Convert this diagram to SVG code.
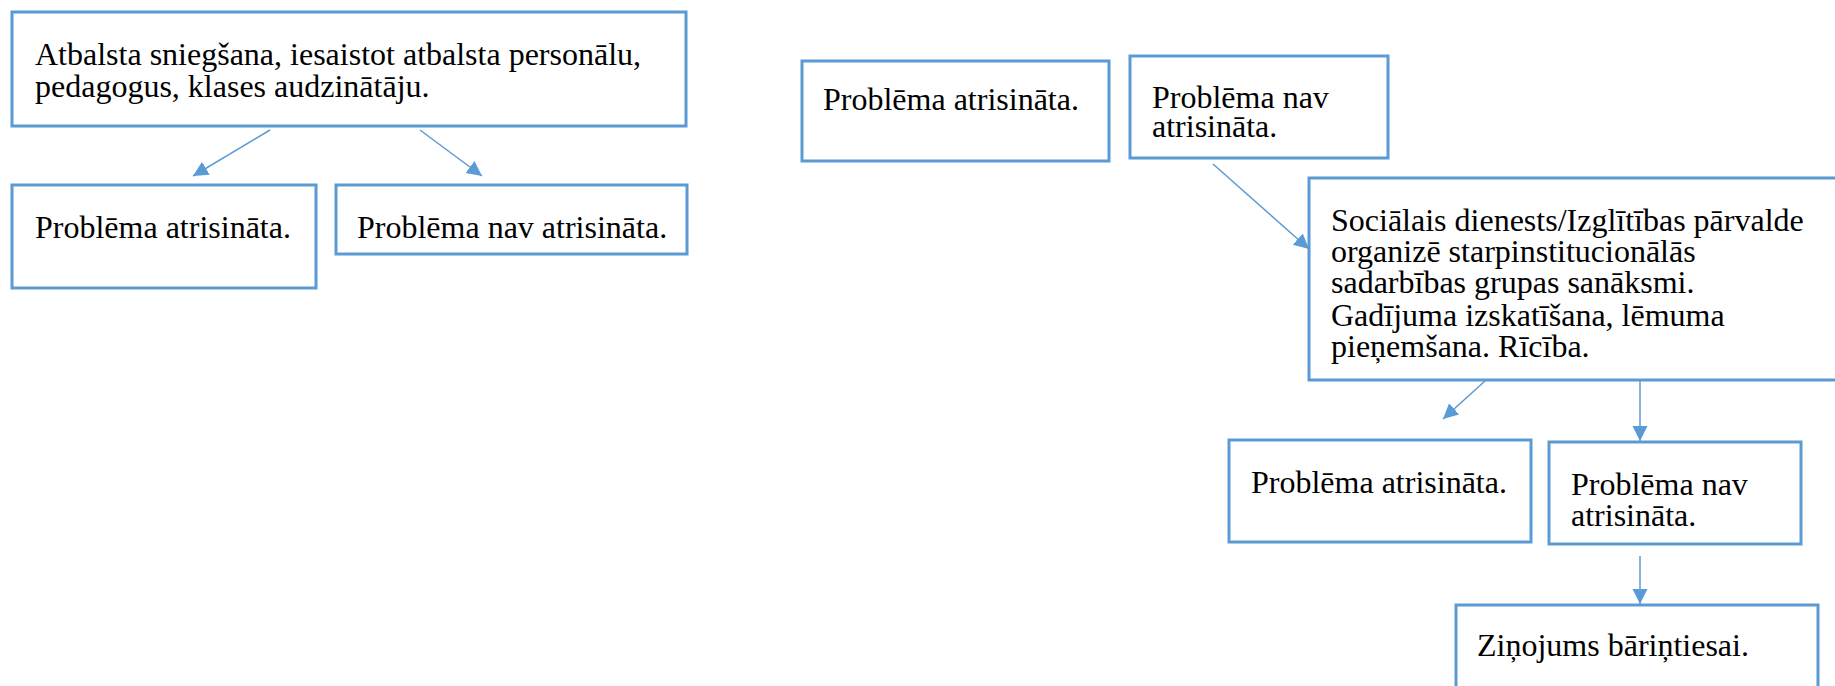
<svg xmlns="http://www.w3.org/2000/svg" width="1835" height="686" viewBox="0 0 1835 686">
<style>
.box{fill:#ffffff;stroke:#5B9BD5;stroke-width:3}
.t{font-family:"Liberation Serif","Times New Roman",serif;font-size:32px;fill:#000000}
.c{stroke:#5B9BD5;stroke-width:1.5;fill:none;marker-end:url(#ah)}
</style>
<defs>
<marker id="ah" markerUnits="userSpaceOnUse" markerWidth="16" markerHeight="16" refX="15" refY="7.5" orient="auto">
<path d="M0,0 L15,7.5 L0,15 z" fill="#5B9BD5"/>
</marker>
</defs>
<rect width="1835" height="686" fill="#ffffff"/>
<g id="n1"><rect class="box" x="12" y="12" width="674" height="114"/>
<text class="t"><tspan x="35" y="65">Atbalsta sniegšana, iesaistot atbalsta personālu,</tspan><tspan x="35" y="97">pedagogus, klases audzinātāju.</tspan></text></g>
<g id="n2"><rect class="box" x="12" y="185" width="304" height="103"/>
<text class="t" x="35" y="238">Problēma atrisināta.</text></g>
<g id="n3"><rect class="box" x="336" y="185" width="351" height="69"/>
<text class="t" x="357" y="238">Problēma nav atrisināta.</text></g>
<g id="n4"><rect class="box" x="802" y="61" width="307" height="100"/>
<text class="t" x="823" y="110">Problēma atrisināta.</text></g>
<g id="n5"><rect class="box" x="1130" y="56" width="258" height="102"/>
<text class="t"><tspan x="1152" y="108">Problēma nav</tspan><tspan x="1152" y="137">atrisināta.</tspan></text></g>
<g id="n6"><rect class="box" x="1309" y="178" width="560" height="202"/>
<text class="t"><tspan x="1331" y="231">Sociālais dienests/Izglītības pārvalde</tspan><tspan x="1331" y="262">organizē starpinstitucionālās</tspan><tspan x="1331" y="293">sadarbības grupas sanāksmi.</tspan><tspan x="1331" y="326">Gadījuma izskatīšana, lēmuma</tspan><tspan x="1331" y="357">pieņemšana. Rīcība.</tspan></text></g>
<g id="n7"><rect class="box" x="1229" y="440" width="302" height="102"/>
<text class="t" x="1251" y="493">Problēma atrisināta.</text></g>
<g id="n8"><rect class="box" x="1549" y="442" width="252" height="102"/>
<text class="t"><tspan x="1571" y="495">Problēma nav</tspan><tspan x="1571" y="526">atrisināta.</tspan></text></g>
<g id="n9"><rect class="box" x="1456" y="605" width="362" height="120"/>
<text class="t" x="1477" y="656">Ziņojums bāriņtiesai.</text></g>
<g id="connectors">
<line class="c" x1="270" y1="130" x2="193" y2="176"/>
<line class="c" x1="420" y1="130" x2="482" y2="176"/>
<line class="c" x1="1213" y1="164" x2="1309" y2="249"/>
<line class="c" x1="1485" y1="381" x2="1443" y2="419"/>
<line class="c" x1="1640" y1="381" x2="1640" y2="441"/>
<line class="c" x1="1640" y1="556" x2="1640" y2="604"/>
</g>
</svg>
